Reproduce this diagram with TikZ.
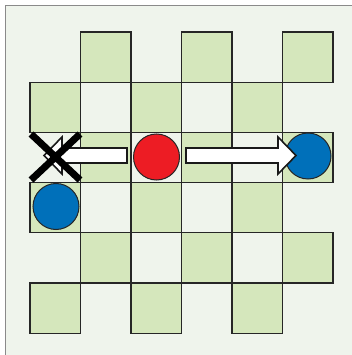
\documentclass[tikz,border=0pt]{standalone}
\definecolor{bgc}{HTML}{EFF4EC}
\definecolor{sqg}{HTML}{D5E7BC}
\definecolor{redc}{HTML}{ED1C24}
\definecolor{bluec}{HTML}{0070BA}
\definecolor{framec}{HTML}{8A8A8A}
\begin{document}
\begin{tikzpicture}[x=1pt,y=-1pt,
  sq/.style={fill=sqg,draw=black!85,line width=1.2pt},
  piece/.style={circle,draw=black!85,line width=1pt,minimum size=46pt,inner sep=0pt},
  bigarrow/.style={fill=white,draw=black!90,line width=1.6pt,line join=miter},
  cross/.style={draw=black,line width=7pt}]
\useasboundingbox (0,0) rectangle (352,355);
\fill[bgc] (5,6) rectangle (352,355);
\draw[framec,line width=1pt] (5,355) -- (5,6) -- (352,6);
\foreach \r in {0,...,5}{
  \foreach \c in {0,...,5}{
    \pgfmathtruncatemacro{\odd}{mod(\r+\c,2)}
    \ifnum\odd=1
      \draw[sq] ({30+50.5*\c},{32+50.2*\r}) rectangle ++(50.5,50.2);
    \fi
  }
}
\node[piece,fill=redc] (red) at (156.5,157) {};
\node[piece,fill=bluec] (blueR) at (308,156) {};
\node[piece,fill=bluec] (blueL) at (56,206.5) {};
\draw[bigarrow] (186,148) -- (278,148) -- (278,137) -- (296,155.5) -- (278,174) -- (278,163) -- (186,163) -- cycle;
\draw[bigarrow] (127,148) -- (62,148) -- (62,137) -- (44,155.5) -- (62,174) -- (62,163) -- (127,163) -- cycle;
\coordinate (xa) at (31,134);
\coordinate (xb) at (80,180);
\coordinate (xc) at (80,134);
\coordinate (xd) at (31,180);
\draw[cross] (xa) -- (xb);
\draw[cross] (xc) -- (xd);
\end{tikzpicture}
\end{document}
